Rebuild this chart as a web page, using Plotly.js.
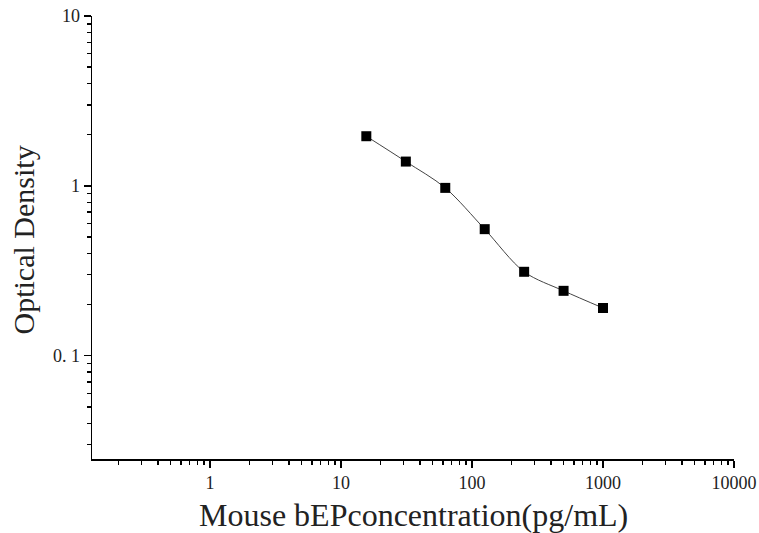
<!DOCTYPE html>
<html>
<head>
<meta charset="utf-8">
<script src="https://cdn.plot.ly/plotly-3.0.1.min.js"></script>
<style>html,body{margin:0;padding:0;background:#fff;}#chart{width:759px;height:533px;}</style>
</head>
<body>
<div id="chart"></div>
<script>
const concentration = [15.6, 31.25, 62.5, 125, 250, 500, 1000];
const opticalDensity = [1.96, 1.39, 0.973, 0.556, 0.312, 0.241, 0.191];
const xTickVals = [1, 10, 100, 1000, 10000];
const xTickText = ["1", "10", "100", "1000", "10000"];
const yTickVals = [0.1, 1, 10];
const yTickText = ["0. 1", "1", "10"];
const xTitle = 'Mouse bEPconcentration(pg/mL)';
const yTitle = 'Optical Density';

function minorVals(lo, hi) {
  const out = [];
  for (let e = lo; e <= hi; e++) for (let m = 2; m <= 9; m++) out.push(m * Math.pow(10, e));
  return out;
}

const font = "Liberation Serif, Times New Roman, serif";
const traces = [
  {x: concentration, y: opticalDensity, type: 'scatter', mode: 'lines',
   line: {shape: 'spline', smoothing: 0.9, color: '#444', width: 1}, hoverinfo: 'skip'},
  {x: concentration, y: opticalDensity, type: 'scatter', mode: 'markers',
   marker: {symbol: 'square', size: 10, color: '#000'}}
];
const axisBase = {
  showgrid: false, zeroline: false, showline: true, linecolor: '#000', linewidth: 1.5,
  ticks: 'outside', ticklen: 7, tickwidth: 1.5, tickcolor: '#000',
  tickfont: {family: font, size: 18, color: '#222'}, mirror: false
};
const layout = {
  width: 759, height: 533,
  margin: {l: 92, r: 25, t: 16, b: 74},
  paper_bgcolor: '#fff', plot_bgcolor: '#fff',
  showlegend: false,
  xaxis: Object.assign({}, axisBase, {
    type: 'log', range: [Math.log10(0.1256), 4],
    tickmode: 'array', tickvals: xTickVals, ticktext: xTickText,
    minor: {tickmode: 'array', tickvals: minorVals(-1, 3), ticks: 'outside', ticklen: 4, tickwidth: 1.5, tickcolor: '#000'}
  }),
  yaxis: Object.assign({}, axisBase, {
    type: 'log', range: [-1.608, 1.0],
    tickmode: 'array', tickvals: yTickVals, ticktext: yTickText,
    minor: {tickmode: 'array', tickvals: minorVals(-2, 0), ticks: 'outside', ticklen: 4, tickwidth: 1.5, tickcolor: '#000'}
  }),
  annotations: [
    {text: xTitle, xref: 'paper', yref: 'paper', x: 0.5, y: 0, yshift: -56,
     xanchor: 'center', yanchor: 'middle', showarrow: false,
     font: {family: font, size: 32, color: '#222'}},
    {text: yTitle, xref: 'paper', yref: 'paper', x: 0, y: 0.5, xshift: -69, yshift: -3,
     xanchor: 'center', yanchor: 'middle', textangle: -90, showarrow: false,
     font: {family: font, size: 30, color: '#222'}}
  ]
};
Plotly.newPlot('chart', traces, layout, {displayModeBar: false, staticPlot: true});
</script>
</body>
</html>
